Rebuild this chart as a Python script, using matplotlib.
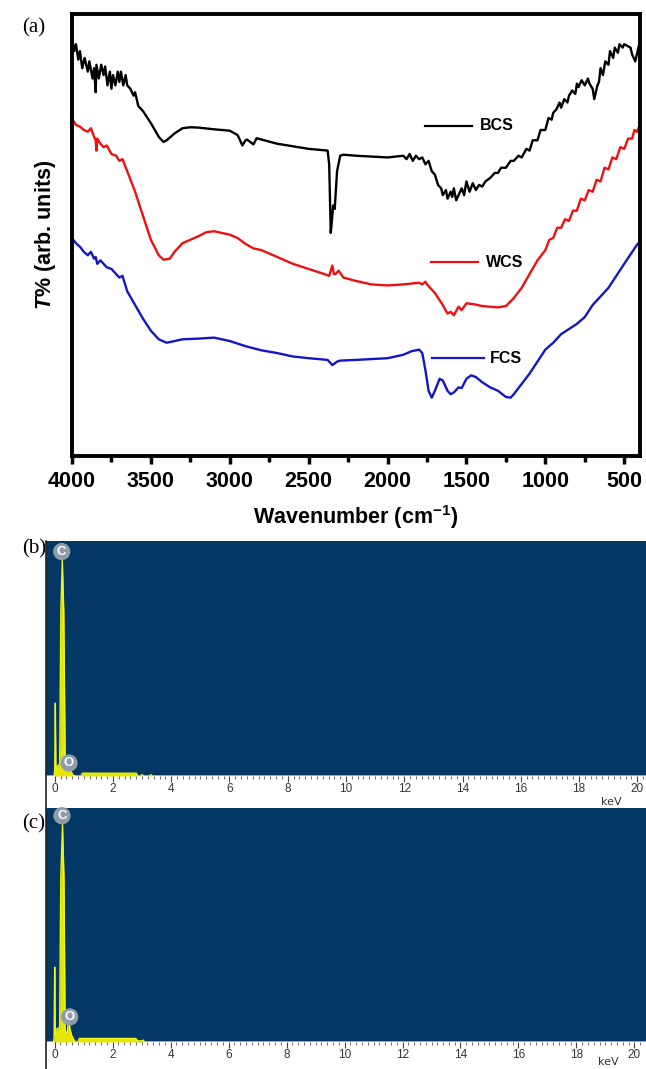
import numpy as np
import matplotlib.pyplot as plt
from matplotlib.lines import Line2D

plt.rcParams['font.family'] = ['Liberation Sans', 'DejaVu Sans']
plt.rcParams['mathtext.fontset'] = 'custom'
plt.rcParams['mathtext.it'] = 'Liberation Sans:italic:bold'
plt.rcParams['mathtext.rm'] = 'Liberation Sans:bold'
plt.rcParams['mathtext.bf'] = 'Liberation Sans:bold'

# ---- (a) FTIR spectra, transmittance in arbitrary units ----
bcs_wn = [4000, 3985, 3975, 3960, 3950, 3935, 3920, 3900, 3890, 3870, 3860, 3850, 3845,
          3830, 3815, 3800, 3790, 3775, 3760, 3750, 3740, 3725, 3710, 3700, 3690, 3675,
          3660, 3650, 3630, 3610, 3600, 3580, 3560, 3550, 3500, 3450, 3420, 3400, 3350,
          3300, 3250, 3200, 3100, 3000, 2950, 2920, 2900, 2890, 2870, 2850, 2830, 2700,
          2500, 2380, 2370, 2360, 2350, 2345, 2335, 2320, 2300, 2280, 2200, 2000, 1900,
          1880, 1860, 1840, 1820, 1800, 1780, 1760, 1740, 1720, 1700, 1680, 1660, 1650,
          1630, 1620, 1600, 1590, 1580, 1565, 1550, 1530, 1515, 1500, 1480, 1460, 1440,
          1420, 1400, 1380, 1350, 1320, 1300, 1280, 1250, 1220, 1200, 1170, 1150, 1120,
          1100, 1080, 1050, 1030, 1000, 980, 960, 950, 930, 910, 900, 880, 860, 850, 830,
          810, 800, 790, 770, 750, 730, 720, 700, 690, 680, 670, 660, 650, 635, 620, 600,
          590, 570, 560, 540, 530, 510, 500, 480, 460, 450, 430, 420, 410, 400]
bcs_t = [121.5, 118, 120, 115.5, 118, 113, 116, 112, 115, 110, 113, 106, 114,
         110, 114, 111, 113.5, 108, 112, 107, 111, 108, 112, 109, 112, 108,
         111, 108, 107, 105, 106, 102, 101, 100.5, 97, 93, 91.5, 92, 94,
         95.5, 95.8, 95.7, 95.2, 94.8, 93.5, 90.5, 92, 92.2, 91.5, 90.8, 92.6, 91,
         89.5, 89, 85, 65, 70, 73, 72, 83, 87.5, 87.8, 87.5, 87, 87.5,
         86.5, 88, 86, 87.5, 86.5, 87, 85, 86, 83, 82, 79, 78, 76,
         77.5, 75, 77, 75.5, 78, 74.5, 76, 78, 76, 80, 77, 79.5, 77.5,
         79, 78.5, 80, 81, 82.5, 82.5, 84, 84, 86, 86, 87.5, 87, 89.5,
         89, 92, 92, 95, 95, 98.5, 98, 100, 101, 103, 101.5, 104, 103, 105, 106.5,
         105.5, 108.5, 107.5, 109.5, 108, 110, 108.5, 107, 104, 106, 108, 109, 113, 111, 115, 114,
         118, 116, 119, 117.5, 120, 119, 120, 119.5, 119, 117, 115, 117, 119, 121]

wcs_wn = [4000, 3975, 3950, 3925, 3900, 3880, 3860, 3850, 3845, 3840, 3820, 3800, 3780,
          3750, 3720, 3700, 3680, 3650, 3600, 3550, 3500, 3450, 3420, 3380, 3350, 3300,
          3250, 3200, 3150, 3100, 3050, 3000, 2950, 2900, 2850, 2800, 2700, 2600, 2500,
          2400, 2370, 2350, 2340, 2330, 2310, 2280, 2200, 2100, 2000, 1900, 1800, 1780,
          1760, 1750, 1700, 1650, 1620, 1600, 1580, 1550, 1530, 1500, 1450, 1400, 1300,
          1250, 1200, 1150, 1100, 1050, 1000, 975, 950, 925, 900, 875, 850, 825, 800,
          775, 750, 725, 700, 675, 650, 625, 600, 575, 550, 525, 500, 475, 450, 435,
          420, 400]
wcs_t = [98.2, 96.5, 96, 95, 94.5, 95.5, 93, 92, 89, 92.5, 91, 90, 90.5,
         88, 87.5, 86, 86.5, 83, 77, 70, 63, 58.5, 57.2, 57.5, 59.5, 62,
         63, 64, 65.2, 65.5, 65, 64.5, 63.5, 61.8, 60.5, 60, 58, 56, 54.5,
         53, 52.5, 55.5, 53, 53, 54, 52, 51, 50, 49.7, 50, 50.5, 50,
         50.8, 50, 47.5, 44, 41.5, 42, 41, 43.5, 42.5, 44.5, 44.2, 43.7, 43.3,
         43.7, 46, 49, 53, 57, 60, 63, 63.5, 66.5, 66.5, 69, 68.5, 71.5, 71.5,
         75, 74.5, 77.5, 77, 80.5, 80, 84, 83.5, 87, 86.5, 90, 89.5, 92.5, 92.5, 95,
         94.5, 96.5]

fcs_wn = [4000, 3975, 3950, 3925, 3900, 3880, 3860, 3850, 3840, 3820, 3800, 3780, 3750,
          3720, 3700, 3680, 3650, 3600, 3550, 3500, 3450, 3400, 3350, 3300, 3200, 3100,
          3000, 2900, 2800, 2700, 2600, 2500, 2380, 2350, 2320, 2300, 2200, 2000, 1900,
          1850, 1800, 1780, 1760, 1740, 1720, 1700, 1670, 1650, 1620, 1600, 1580, 1550,
          1530, 1500, 1470, 1440, 1400, 1350, 1300, 1250, 1220, 1200, 1150, 1100, 1050,
          1000, 950, 900, 850, 800, 750, 700, 600, 500, 420, 400]
fcs_t = [63.5, 62, 61, 59.5, 58.5, 59.5, 57.5, 58, 56, 57, 56, 55, 54.5,
         53, 52, 52.5, 48, 44, 40, 36.5, 34, 33, 33.5, 34, 34.2, 34.5,
         33.5, 32, 30.8, 30, 29, 28.5, 28, 26.5, 27.5, 27.8, 28, 28.5, 29.5,
         30.5, 31, 30, 25, 19, 17, 19, 22.5, 22, 19, 18, 18.5, 20,
         19.8, 22.5, 23.5, 23, 21.5, 20, 19, 17.2, 17, 18, 21, 24, 27.5,
         31, 33, 35.5, 37, 38.5, 40.5, 44, 49, 56, 61.5, 62.5]

series_names = ['BCS', 'WCS', 'FCS']
series_colors = ['black', '#ee1010', '#1515c8']

# ---- (b), (c) EDS spectra ----
eds_b_kev = [-0.3, -0.02, 0.0, 0.02, 0.04, 0.07, 0.12, 0.17, 0.21, 0.26, 0.31, 0.36, 0.42,
             0.48, 0.52, 0.56, 0.62, 0.7, 0.9, 0.95, 2.8, 2.85, 2.95, 3.0, 3.05, 3.25, 3.3,
             3.35, 20.3]
eds_b_cts = [0, 0, 3, 31, 3, 4, 4.5, 5, 70, 92, 70, 5, 3,
             2.5, 3, 2, 0.5, 0, 0, 1.2, 1.2, 0, 0, 0.6, 0, 0, 0.6,
             0, 0]
eds_c_kev = [-0.3, -0.04, -0.02, 0.0, 0.02, 0.04, 0.07, 0.12, 0.17, 0.21, 0.27, 0.32, 0.36,
             0.40, 0.44, 0.48, 0.52, 0.58, 0.66, 0.72, 0.8, 0.85, 2.8, 2.85, 3.0, 3.05, 3.1,
             20.4]
eds_c_cts = [0, 0, 2, 32, 3, 5, 5.5, 6, 6, 70, 93, 70, 6,
             3, 4, 12, 6, 3, 1, 0, 0, 1.5, 1.5, 0.5, 0.5, 0.8, 0,
             0]
eds_peak_labels = ['C', 'O']
eds_b_label_pos = [(0.24, 95.5), (0.49, 5.5)]
eds_c_label_pos = [(0.25, 96.7), (0.52, 10.7)]

W, H = 646, 1069
fig = plt.figure(figsize=(W / 100, H / 100), dpi=100)


def box(l, t, r, b):
    return [l / W, 1 - b / H, (r - l) / W, (b - t) / H]


# ---------------- panel (a) ----------------
ax = fig.add_axes(box(72, 14, 640, 456))
for wn, t, c in zip([bcs_wn, wcs_wn, fcs_wn], [bcs_t, wcs_t, fcs_t], series_colors):
    ax.plot(wn, t, color=c, lw=1.7, solid_joinstyle='round')
ax.set_xlim(4000, 400)
ax.set_ylim(0, 128.8)
ax.set_yticks([])
ax.set_xticks([4000, 3500, 3000, 2500, 2000, 1500, 1000, 500])
ax.set_xticks(np.arange(3750, 400, -500), minor=True)
ax.tick_params(axis='x', which='major', direction='out', length=6, width=2.5,
               labelsize=15.5, pad=5)
ax.tick_params(axis='x', which='minor', direction='out', length=4, width=2.5)
for lab in ax.get_xticklabels():
    lab.set_fontweight('bold')
for sp in ax.spines.values():
    sp.set_linewidth(2.8)
ax.set_xlabel('Wavenumber (cm$^{-1}$)', fontsize=15.5, fontweight='bold', labelpad=8)
ax.set_ylabel('$T$% (arb. units)', fontsize=15.5, fontweight='bold', labelpad=10)

# in-plot labels
leg_y = [96.2, 56.5, 28.5]
leg_x0 = [1762, 1723, 1718]
leg_x1 = [1463, 1424, 1390]
leg_tx = [1416, 1377, 1354]
for name, c, y, x0, x1, tx in zip(series_names, series_colors, leg_y, leg_x0, leg_x1, leg_tx):
    ax.plot([x0, x1], [y, y], color=c, lw=1.6)
    ax.text(tx, y, name, fontsize=11.5, fontweight='bold', va='center', ha='left')

fig.text(22 / W, 1 - 28 / H, '(a)', family='Liberation Serif', fontsize=15,
         ha='left', va='center')

# ---------------- panels (b), (c) ----------------
navy = '#033865'


def eds_panel(top, bottom, strip_bottom, kev, cts, label_pos, xmax, tag, tag_y, kev_y):
    a = fig.add_axes(box(46, top, 646, bottom))
    a.set_facecolor(navy)
    a.fill_between(kev, cts, 0, color='#e6e600', lw=0)
    a.plot(kev, cts, color='#f4f41a', lw=1.0)
    a.set_xlim(-0.3, xmax)
    a.set_ylim(0, 100)
    a.set_yticks([])
    a.set_xticks(np.arange(0, 21, 2))
    a.set_xticks(np.arange(0, 20.3, 0.2), minor=True)
    a.tick_params(axis='x', which='major', direction='out', length=4, width=0.8,
                  color='#444444', labelsize=8.5, labelcolor='#333333', pad=1)
    a.tick_params(axis='x', which='minor', direction='out', length=2, width=0.6,
                  color='#555555')
    for sp in a.spines.values():
        sp.set_visible(False)
    for name, (x, y) in zip(eds_peak_labels, label_pos):
        a.text(x, y, name, fontsize=9.5, fontweight='bold', color='white',
               ha='center', va='center',
               bbox=dict(boxstyle='circle,pad=0.2', fc='#8f9caa', ec='none'))
    a.text(19.1, kev_y, 'keV', fontsize=8, color='#333333', ha='center', va='center',
           clip_on=False, family='DejaVu Sans')
    # left border running through the tick strip
    fig.add_artist(Line2D([46 / W, 46 / W], [1 - strip_bottom / H, 1 - top / H],
                          color='#222222', lw=1.2))
    fig.text(22 / W, 1 - tag_y / H, tag, family='Liberation Serif', fontsize=15,
             ha='left', va='center')
    return a


eds_panel(541, 776, 807, eds_b_kev, eds_b_cts, eds_b_label_pos, 20.3, '(b)', 549, -11)
eds_panel(808, 1042, 1069, eds_c_kev, eds_c_cts, eds_c_label_pos, 20.4, '(c)', 824, -8.5)

fig.savefig('out.png', dpi=100)
